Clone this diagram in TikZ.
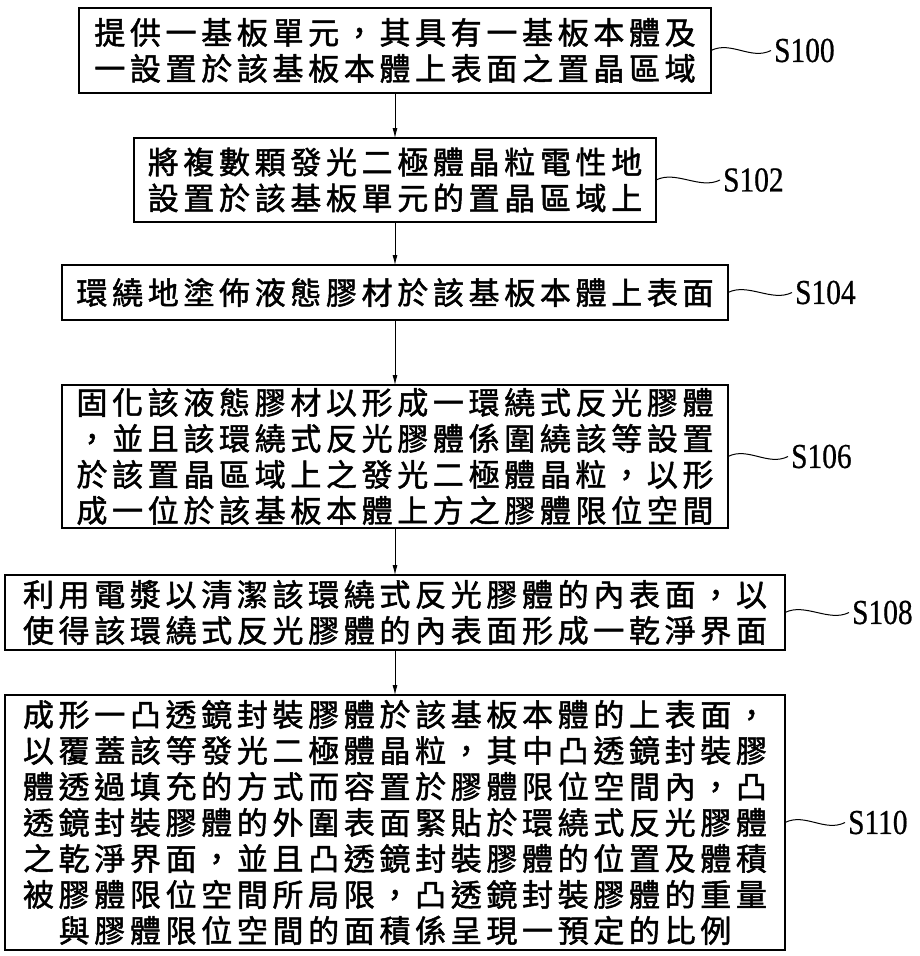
\documentclass[tikz,border=0pt]{standalone}
\usepackage{fontspec}
\usepackage{tikz}
\usetikzlibrary{positioning, arrows.meta}
\newfontfamily\cjk[LetterSpace=15, FakeBold=1.6]{Noto Sans CJK TC}
\newfontfamily\lblfont[FakeStretch=0.84, FakeBold=0.6]{Liberation Serif}

\begin{document}
\begin{tikzpicture}[x=1pt, y=-1pt,
    stepbox/.style={draw, line width=1.8pt, outer sep=0pt, align=center, inner xsep=4pt, inner ysep=0pt,
        font=\cjk\fontsize{31}{36}\selectfont},
    steplabel/.style={inner sep=3pt, font=\lblfont\fontsize{35}{36}\selectfont},
    flow/.style={line width=0.8pt, -{Latex[length=10pt, width=5pt]}}]
    \useasboundingbox (0,0) rectangle (919,956);
    \node[stepbox, anchor=north, text width=624pt, minimum height=85pt](s0) at (395,8)
        {提供一基板單元，其具有一基板本體及\\一設置於該基板本體上表面之置晶區域};
    \node[stepbox, below=45pt of s0, text width=514pt, minimum height=84pt](s1)
        {將複數顆發光二極體晶粒電性地\\設置於該基板單元的置晶區域上};
    \node[stepbox, below=43pt of s1, text width=658pt, minimum height=55pt](s2)
        {環繞地塗佈液態膠材於該基板本體上表面};
    \node[stepbox, below=65pt of s2, text width=658pt, minimum height=143pt](s3)
        {固化該液態膠材以形成一環繞式反光膠體\\，並且該環繞式反光膠體係圍繞該等設置\\於該置晶區域上之發光二極體晶粒，以形\\成一位於該基板本體上方之膠體限位空間};
    \node[stepbox, below=47pt of s3, text width=772pt, minimum height=75pt](s4)
        {利用電漿以清潔該環繞式反光膠體的內表面，以\\使得該環繞式反光膠體的內表面形成一乾淨界面};
    \node[stepbox, below=45pt of s4, text width=772pt, minimum height=255pt](s5)
        {成形一凸透鏡封裝膠體於該基板本體的上表面，\\以覆蓋該等發光二極體晶粒，其中凸透鏡封裝膠\\體透過填充的方式而容置於膠體限位空間內，凸\\透鏡封裝膠體的外圍表面緊貼於環繞式反光膠體\\之乾淨界面，並且凸透鏡封裝膠體的位置及體積\\被膠體限位空間所局限，凸透鏡封裝膠體的重量\\與膠體限位空間的面積係呈現一預定的比例};
    \node[steplabel, right=60pt of s0](l0){S100};
    \node[steplabel, right=64pt of s1](l1){S102};
    \node[steplabel, right=64pt of s2](l2){S104};
    \node[steplabel, right=60pt of s3](l3){S106};
    \node[steplabel, right=64pt of s4](l4){S108};
    \node[steplabel, right=60pt of s5](l5){S110};
    \draw[flow]
    (s0) edge (s1)
    (s1) edge (s2)
    (s2) edge (s3)
    (s3) edge (s4)
    (s4) edge (s5);
    \draw[line width=1pt]
    (s0.east) .. controls +(20,-10) and +(-20,10) .. (l0.west)
    (s1.east) .. controls +(20,-10) and +(-20,10) .. (l1.west)
    (s2.east) .. controls +(20,-10) and +(-20,10) .. (l2.west)
    (s3.east) .. controls +(20,-10) and +(-20,10) .. (l3.west)
    (s4.east) .. controls +(20,-10) and +(-20,10) .. (l4.west)
    (s5.east) .. controls +(20,-10) and +(-20,10) .. (l5.west);
\end{tikzpicture}
\end{document}
